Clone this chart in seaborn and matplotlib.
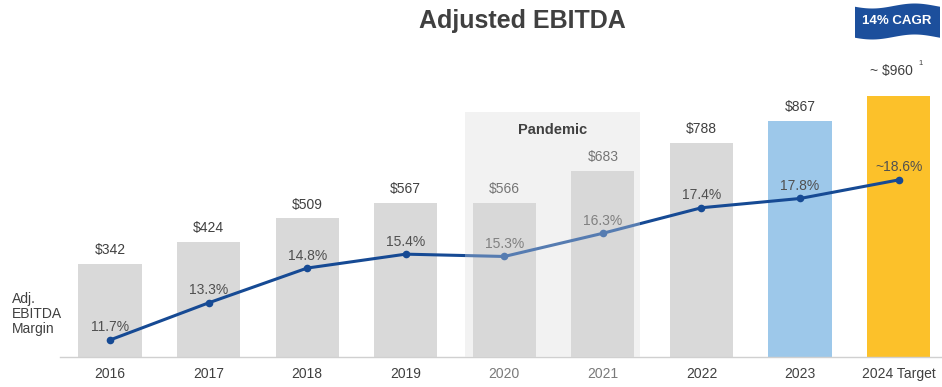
import numpy as np
import pandas as pd
import matplotlib
matplotlib.use("Agg")
import matplotlib.pyplot as plt
import seaborn as sns
from matplotlib.patches import Rectangle, Polygon

sns.set_theme(style="white")
plt.rcParams['font.family'] = ['Liberation Sans', 'DejaVu Sans']

years = ["2016", "2017", "2018", "2019", "2020", "2021", "2022", "2023", "2024 Target"]
ebitda = [342, 424, 509, 567, 566, 683, 788, 867, 960]
ebitda_labels = ["$342", "$424", "$509", "$567", "$566", "$683", "$788", "$867", ""]
margin = [11.7, 13.3, 14.8, 15.4, 15.3, 16.3, 17.4, 17.8, 18.6]
margin_labels = ["11.7%", "13.3%", "14.8%", "15.4%", "15.3%", "16.3%", "17.4%", "17.8%", "~18.6%"]
# pandemic bars drawn slightly darker; the translucent overlay lightens them back
bar_colors = ["#d9d9d9"] * 4 + ["#c9c9c9"] * 2 + ["#d9d9d9", "#9dc8ea", "#fcc12a"]

W, H = 942, 387
fig = plt.figure(figsize=(W / 100, H / 100), dpi=100)
ax = fig.add_axes([60 / W, (H - 357) / H, 1 - 60 / W, 357 / H])

# pandemic background
ax.add_patch(Rectangle((3.60, 0), 1.775, 900, facecolor="#eeeeee",
                       edgecolor="none", zorder=0))

df = pd.DataFrame({"year": years, "ebitda": ebitda})
sns.barplot(data=df, x="year", y="ebitda", hue="year", palette=bar_colors,
            legend=False, width=0.64, ax=ax, saturation=1, zorder=2,
            linewidth=0, edgecolor="none")
ax.set_xlim(-0.507, 8.44)
ax.set_ylim(0, 1312)
ax.set_xlabel("")
ax.set_ylabel("")
ax.set_yticks([])
for s in ["top", "right", "left"]:
    ax.spines[s].set_visible(False)
ax.spines["bottom"].set_color("#d0d0d0")
ax.spines["bottom"].set_linewidth(1.0)
ax.tick_params(axis="x", length=0, pad=7, labelsize=10, labelcolor="#404040")
for i, t in enumerate(ax.get_xticklabels()):
    if years[i] in ("2020", "2021"):
        t.set_color("#7a7a7a")

for i, (v, lab) in enumerate(zip(ebitda, ebitda_labels)):
    if lab:
        ax.annotate(lab, (i, v), xytext=(0, 5), textcoords="offset points",
                    ha="center", va="bottom", fontsize=10, color="#404040")
# target label with superscript
ax.annotate("~ $960", (8, ebitda[8]), xytext=(-5, 13), textcoords="offset points",
            ha="center", va="bottom", fontsize=10, color="#404040")
ax.annotate("1", (8, ebitda[8]), xytext=(16, 21), textcoords="offset points",
            ha="center", va="bottom", fontsize=5.5, color="#404040")

ax2 = ax.twinx()
ax2.set_ylim(10.967, 26.355)
sns.lineplot(x=np.arange(len(years)), y=margin, ax=ax2, color="#164a94",
             linewidth=2.2, marker="o", markersize=5.5, markeredgewidth=0)
ax2.set_yticks([])
for s in ["top", "right", "left", "bottom"]:
    ax2.spines[s].set_visible(False)
for i, (m, lab) in enumerate(zip(margin, margin_labels)):
    ax2.annotate(lab, (i, m), xytext=(0, 4), textcoords="offset points",
                 ha="center", va="bottom", fontsize=10, color="#505050")

# pandemic translucent overlay
ax2.add_patch(Rectangle((3.60, 0), 1.775, 900, transform=ax.transData,
                        facecolor="white", alpha=0.28, edgecolor="none", zorder=10))
ax2.text(4.49, 835, "Pandemic", transform=ax.transData, ha="center", va="center",
         fontsize=10.5, fontweight="bold", color="#404040", zorder=11)

# title
fig.text(522 / W, 1 - 21 / H, "Adjusted EBITDA", ha="center", va="center",
         fontsize=18, fontweight="bold", color="#404040")

# margin label
fig.text(12 / W, 1 - 314 / H, "Adj.\nEBITDA\nMargin", ha="left", va="center",
         fontsize=10, color="#404040", linespacing=1.1)

# CAGR badge
xs = np.linspace(855, 940, 60)
top = 6 + 2.5 * np.sin((xs - 855) / 85 * 2 * np.pi + 0.3)
bot = 37 + 2.5 * np.sin((xs - 855) / 85 * 2 * np.pi + 0.3)
pts = [(x / W, 1 - y / H) for x, y in zip(xs, top)] + \
      [(x / W, 1 - y / H) for x, y in zip(xs[::-1], bot[::-1])]
fig.patches.append(Polygon(pts, closed=True, transform=fig.transFigure,
                           facecolor="#1c4f9c", edgecolor="none"))
fig.text(897 / W, 1 - 21 / H, "14% CAGR", ha="center", va="center",
         fontsize=9.5, fontweight="bold", color="white")

fig.savefig("out.png", dpi=100)
